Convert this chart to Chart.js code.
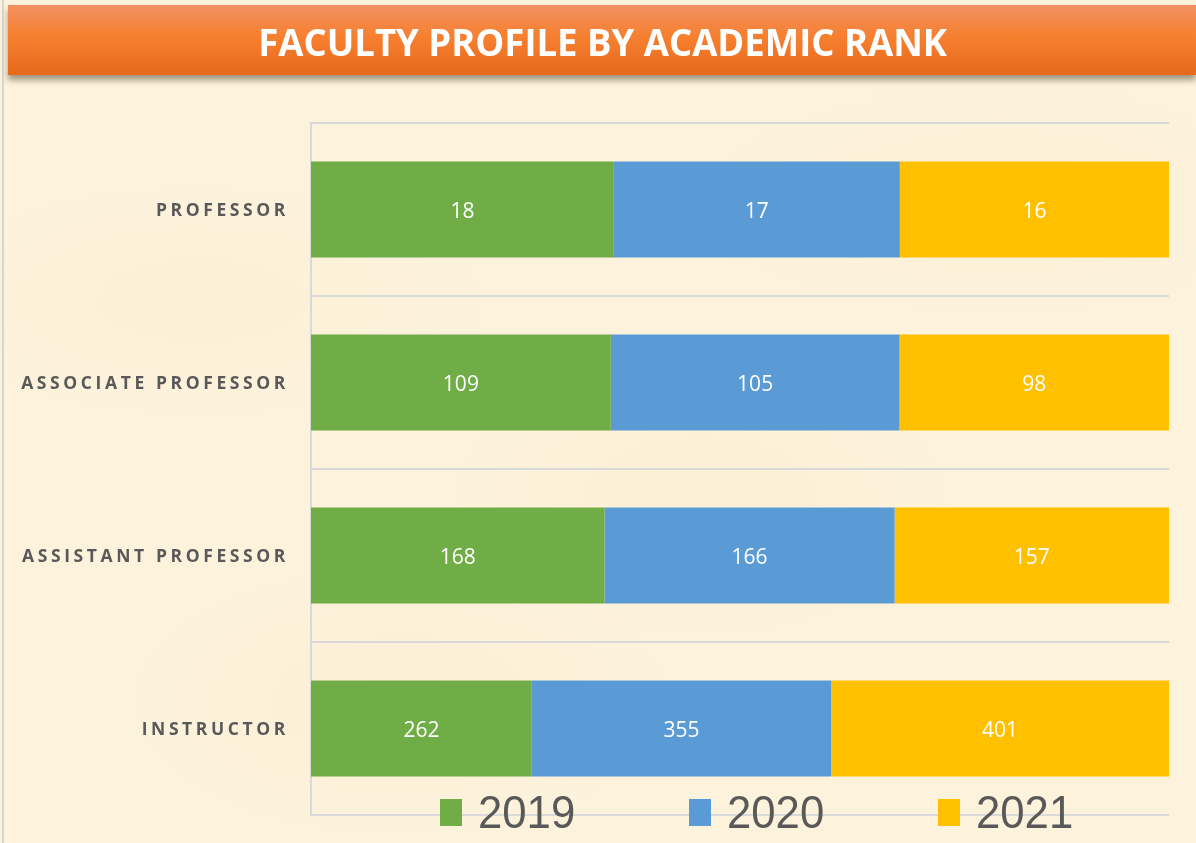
<!DOCTYPE html>
<html>
<head>
<meta charset="utf-8">
<script src="https://cdn.jsdelivr.net/npm/chart.js@4/dist/chart.umd.min.js"></script>
<style>
  html, body { margin: 0; padding: 0; }
  body {
    width: 1196px; height: 843px; position: relative; overflow: hidden;
    background: #fdf2dc;
    background-image:
      radial-gradient(ellipse 300px 120px at 200px 300px, rgba(248,232,198,0.25), rgba(0,0,0,0)),
      radial-gradient(ellipse 260px 140px at 700px 500px, rgba(248,232,198,0.3), rgba(0,0,0,0)),
      radial-gradient(ellipse 320px 120px at 1000px 200px, rgba(250,236,205,0.35), rgba(0,0,0,0)),
      radial-gradient(ellipse 280px 140px at 400px 700px, rgba(248,232,198,0.3), rgba(0,0,0,0));
  }
  .frame { position: absolute; left: 2px; top: 0; width: 2px; height: 843px; background: #d6d6d6; }
  .banner {
    position: absolute; left: 8px; top: 5px; width: 1188px; height: 70px;
    background: linear-gradient(to bottom, #f29062 0%, #f6802f 45%, #e8691b 100%);
    box-shadow: 0 5px 6px rgba(90,70,50,0.55);
    color: #fff; font-family: "Open Sans", sans-serif;
    font-weight: bold; font-size: 38px; line-height: 72px; text-align: center;
    z-index: 2;
  }
  .banner span { display: inline-block; transform: scaleX(0.96); margin-left: 1px; }
  #wrap { position: absolute; left: 0; top: 0; width: 1196px; height: 843px; }
  .legend { position: absolute; top: 788px; left: 0; z-index: 3; }
  .item { position: absolute; top: 0; white-space: nowrap; }
  .sw { position: absolute; left: 0; top: 11px; width: 22px; height: 27px; }
  .lt { position: absolute; left: 38px; top: 0; font-family: "Liberation Sans", sans-serif;
        font-size: 46px; line-height: 48px; color: #595959;
        transform: scaleX(0.95); transform-origin: left center; }
</style>
</head>
<body>
<div class="frame"></div>
<div class="banner"><span>FACULTY PROFILE BY ACADEMIC RANK</span></div>
<div id="wrap"><canvas id="chart" width="1196" height="843"></canvas></div>
<div class="legend" id="legend"></div>
<script>
const ranks = ["PROFESSOR", "ASSOCIATE PROFESSOR", "ASSISTANT PROFESSOR", "INSTRUCTOR"];
const years = ["2019", "2020", "2021"];
const values2019 = [18, 109, 168, 262];
const values2020 = [17, 105, 166, 355];
const values2021 = [16, 98, 157, 401];
const colors = ["#70AD47", "#5B9BD5", "#FFC000"];

const allValues = [values2019, values2020, values2021];
const totals = ranks.map((_, i) => allValues.reduce((s, arr) => s + arr[i], 0));

const datasets = years.map((year, k) => ({
  label: year,
  data: allValues[k].map((v, i) => (v / totals[i]) * 100),
  raw: allValues[k],
  backgroundColor: colors[k],
  borderWidth: 0,
  categoryPercentage: 1,
  barPercentage: 0.555,
}));

// white value labels in the middle of each segment
const valueLabels = {
  id: "valueLabels",
  afterDatasetsDraw(chart) {
    const ctx = chart.ctx;
    ctx.save();
    ctx.font = "21px 'Open Sans', sans-serif";
    ctx.fillStyle = "#ffffff";
    ctx.textAlign = "center";
    ctx.textBaseline = "middle";
    chart.data.datasets.forEach((ds, k) => {
      chart.getDatasetMeta(k).data.forEach((bar, i) => {
        const p = bar.getCenterPoint();
        ctx.fillText(String(ds.raw[i]), p.x, p.y + 3);
      });
    });
    ctx.restore();
  },
};

// spaced category labels on the left
const rankLabels = {
  id: "rankLabels",
  afterDraw(chart) {
    const ctx = chart.ctx;
    const y = chart.scales.y;
    ctx.save();
    ctx.font = "bold 17.5px 'Open Sans', sans-serif";
    ctx.letterSpacing = "3.6px";
    ctx.fillStyle = "#595959";
    ctx.textAlign = "right";
    ctx.textBaseline = "middle";
    y.ticks.forEach((t, i) => {
      ctx.fillText(chart.data.labels[i], 289, y.getPixelForTick(i) + 2);
    });
    ctx.restore();
  },
};

const chart = new Chart(document.getElementById("chart"), {
  type: "bar",
  data: { labels: ranks, datasets: datasets },
  options: {
    indexAxis: "y",
    responsive: false,
    animation: false,
    layout: { padding: { left: 0, top: 123, right: 27, bottom: 28 } },
    scales: {
      x: {
        stacked: true, min: 0, max: 100, display: false,
      },
      y: {
        stacked: true,
        ticks: { display: false },
        grid: { color: "#d9d9d9", lineWidth: 2, drawTicks: false },
        border: { color: "#d9d9d9", width: 2 },
        afterFit(scale) { scale.width = 311; },
      },
    },
    plugins: {
      legend: { display: false },
      tooltip: { enabled: false },
    },
  },
  plugins: [valueLabels, rankLabels],
});

const legend = document.getElementById("legend");
years.forEach((year, k) => {
  const item = document.createElement("div");
  item.className = "item";
  item.style.left = 440 + k * 249 + "px";
  item.innerHTML = '<div class="sw" style="background:' + colors[k] + '"></div><div class="lt">' + year + "</div>";
  legend.appendChild(item);
});
</script>
</body>
</html>
